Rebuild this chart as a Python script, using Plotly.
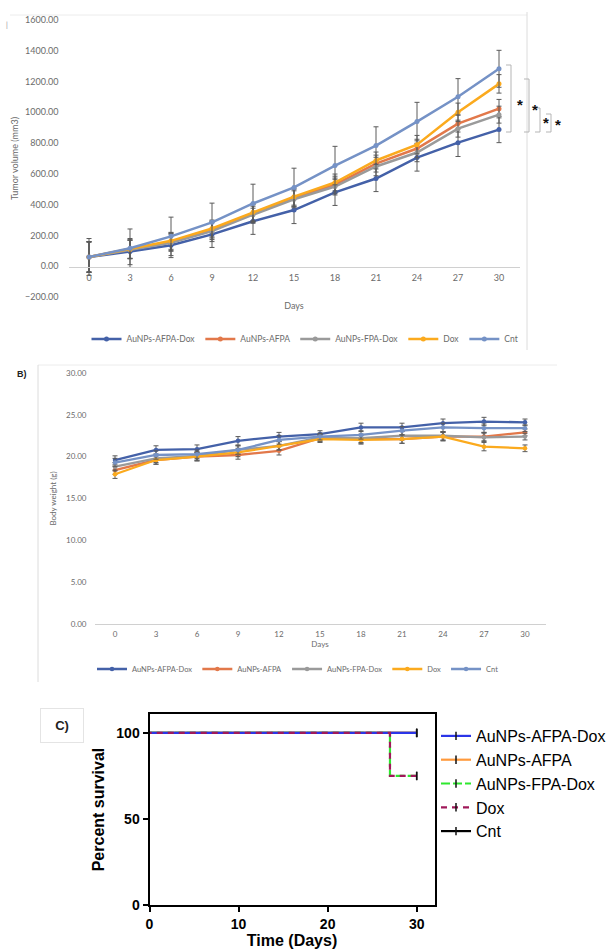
import plotly.graph_objects as go

W, H = 612, 949

days = [0, 3, 6, 9, 12, 15, 18, 21, 24, 27, 30]
series = ["AuNPs-AFPA-Dox", "AuNPs-AFPA", "AuNPs-FPA-Dox", "Dox", "Cnt"]
excel_colors = ["#4461A8", "#E2784A", "#9A9A9A", "#FBAA1E", "#7592C6"]

# Panel A: tumor volume (mm3)
tv_afpa_dox = [60, 95, 136, 207, 292, 365, 480, 570, 706, 803, 888]
tv_afpa = [60, 112, 158, 238, 345, 445, 530, 667, 765, 927, 1024]
tv_fpa_dox = [60, 108, 152, 228, 335, 435, 518, 648, 739, 894, 985]
tv_dox = [60, 110, 165, 245, 350, 452, 544, 687, 790, 1000, 1185]
tv_cnt = [60, 117, 194, 285, 408, 512, 654, 784, 940, 1101, 1283]
tv_err_afpa_dox = [95, 85, 80, 85, 85, 88, 85, 85, 88, 90, 85]
tv_err_afpa = [100, 60, 55, 55, 55, 55, 55, 55, 60, 55, 60]
tv_err_fpa_dox = [100, 60, 55, 55, 55, 55, 55, 60, 60, 55, 55]
tv_err_dox = [100, 60, 55, 55, 55, 55, 55, 55, 60, 60, 60]
tv_err_cnt = [120, 125, 125, 125, 125, 125, 125, 122, 125, 118, 120]

# Panel B: body weight (g)
bw_afpa_dox = [19.6, 20.8, 20.9, 21.9, 22.4, 22.7, 23.5, 23.5, 24.0, 24.2, 24.1]
bw_afpa = [18.4, 19.6, 20.0, 20.2, 20.7, 22.2, 22.1, 22.1, 22.4, 22.4, 22.9]
bw_fpa_dox = [18.8, 19.8, 20.1, 20.8, 21.3, 22.3, 22.2, 22.5, 22.5, 22.3, 22.4]
bw_dox = [17.9, 19.6, 20.0, 20.5, 21.3, 22.1, 22.0, 22.1, 22.4, 21.2, 21.0]
bw_cnt = [19.3, 20.2, 20.3, 20.8, 22.0, 22.4, 22.6, 23.1, 23.5, 23.4, 23.4]
bw_err = [0.5, 0.5, 0.5, 0.5, 0.5, 0.4, 0.5, 0.5, 0.5, 0.5, 0.4]

# Panel C: survival (%), listed from the last time back to day 0
surv_full_t = [30, 0]
surv_full_v = [100, 100]
surv_drop_t = [30, 27, 0]
surv_drop_v = [75, 75, 100]
prism_colors = {"AuNPs-AFPA-Dox": "#2B35E8", "AuNPs-AFPA": "#FF9A3C",
                "AuNPs-FPA-Dox": "#2EE82E", "Dox": "#A0195A", "Cnt": "#000000"}

tv_vals = [tv_afpa_dox, tv_afpa, tv_fpa_dox, tv_dox, tv_cnt]
tv_errs = [tv_err_afpa_dox, tv_err_afpa, tv_err_fpa_dox, tv_err_dox, tv_err_cnt]
bw_vals = [bw_afpa_dox, bw_afpa, bw_fpa_dox, bw_dox, bw_cnt]


def px(x):
    return x / W


def py(y):
    return 1 - y / H


FONT = "Lato, Carlito, 'Liberation Sans', sans-serif"
ARIAL = "'Liberation Sans', Arial, sans-serif"
GRAY = "#6b6b6b"

fig = go.Figure()

for name, col, v, e in zip(series, excel_colors, tv_vals, tv_errs):
    fig.add_trace(go.Scatter(
        x=days, y=v, name=name, mode="lines+markers",
        line=dict(color=col, width=2.5), marker=dict(color=col, size=5),
        error_y=dict(type="data", array=e, color="#5a5a5a", thickness=1, width=2.5),
        xaxis="x", yaxis="y", legend="legend"))

for name, col, v in zip(series, excel_colors, bw_vals):
    fig.add_trace(go.Scatter(
        x=days, y=v, name=name, mode="lines+markers",
        line=dict(color=col, width=2.3), marker=dict(color=col, size=4.5),
        error_y=dict(type="data", array=bw_err, color="#5a5a5a", thickness=1, width=2.5),
        xaxis="x2", yaxis="y2", legend="legend2"))

# Panel C traces (drawing order: bottom to top), legend order via legendrank
c_specs = [
    ("Cnt", surv_full_t, surv_full_v, "solid", 5),
    ("AuNPs-AFPA", surv_full_t, surv_full_v, "solid", 2),
    ("AuNPs-FPA-Dox", surv_drop_t, surv_drop_v, "9px,3px", 3),
    ("AuNPs-AFPA-Dox", surv_full_t, surv_full_v, "solid", 1),
    ("Dox", surv_drop_t, surv_drop_v, "6px,5px", 4),
]
for name, t, v, dash, rank in c_specs:
    col = prism_colors[name]
    mcols = ["#111111"] + ["rgba(0,0,0,0)"] * (len(t) - 1)
    fig.add_trace(go.Scatter(
        x=t, y=v, name=name, mode="lines+markers", line_shape="vh",
        line=dict(color=col, width=2.2, dash=dash),
        marker=dict(symbol="line-ns", size=6, color=mcols,
                    line=dict(width=1.5, color=mcols)),
        xaxis="x3", yaxis="y3", legend="legend3", legendrank=rank, cliponaxis=False))

excel_tick = dict(family=FONT, size=9, color=GRAY)

fig.update_layout(
    width=W, height=H, autosize=False,
    margin=dict(l=0, r=0, t=0, b=0, autoexpand=False),
    paper_bgcolor="white", plot_bgcolor="white",
    font=dict(family=FONT, color=GRAY),
    xaxis=dict(domain=[px(68.5), px(519.5)], range=[-1.5, 31.5], tickvals=days,
               anchor="free", position=py(267), showline=True, linecolor="#d0d0d0",
               linewidth=1, showgrid=False, zeroline=False, ticks="",
               tickfont=excel_tick, ticklabelstandoff=2,
               title=dict(text="Days", font=dict(family=FONT, size=9, color=GRAY), standoff=20)),
    yaxis=dict(domain=[py(297), py(20)], range=[-200, 1600],
               tickvals=list(range(-200, 1601, 200)), tickformat=".2f",
               showgrid=False, zeroline=False, showline=False, ticks="",
               tickfont=excel_tick, ticklabelstandoff=9,
               title=dict(text="Tumor volume (mm3)", font=dict(family=FONT, size=9, color=GRAY), standoff=4)),
    xaxis2=dict(domain=[px(94.5), px(545.5)], range=[-1.5, 31.5], tickvals=days,
                anchor="y2", showline=True, linecolor="#d0d0d0", linewidth=1,
                showgrid=False, zeroline=False, ticks="", tickfont=dict(family=FONT, size=8, color=GRAY),
                ticklabelstandoff=2,
                title=dict(text="Days", font=dict(family=FONT, size=8, color=GRAY), standoff=2)),
    yaxis2=dict(domain=[py(624), py(373)], range=[0, 30], tickvals=list(range(0, 31, 5)),
                tickformat=".2f", anchor="x2", showgrid=False, zeroline=False, showline=False,
                ticks="", tickfont=dict(family=FONT, size=8, color=GRAY), ticklabelstandoff=7,
                title=dict(text="Body weight (g)", font=dict(family=FONT, size=8, color=GRAY), standoff=8)),
    xaxis3=dict(domain=[px(149.5), px(434.5)], range=[0, 32], tickvals=[0, 10, 20, 30],
                anchor="y3", showline=True, linecolor="black", linewidth=2, mirror=True,
                showgrid=False, zeroline=False, ticks="outside", ticklen=5, tickwidth=2,
                tickcolor="black",
                tickfont=dict(family=ARIAL, size=14, color="black", weight="bold"),
                title=dict(text="Time (Days)", standoff=2,
                           font=dict(family=ARIAL, size=16, color="black", weight="bold"))),
    yaxis3=dict(domain=[py(905), py(714)], range=[0, 111], tickvals=[0, 50, 100],
                anchor="x3", showline=True, linecolor="black", linewidth=2, mirror=True,
                showgrid=False, zeroline=False, ticks="outside", ticklen=5, tickwidth=2,
                tickcolor="black",
                tickfont=dict(family=ARIAL, size=14, color="black", weight="bold"),
                title=dict(text="Percent survival", standoff=8,
                           font=dict(family=ARIAL, size=16, color="black", weight="bold"))),
    legend=dict(orientation="h", x=px(305), xanchor="center", y=py(339), yanchor="middle",
                font=dict(family=FONT, size=8.5, color=GRAY), itemwidth=30,
                bgcolor="rgba(0,0,0,0)", tracegroupgap=0),
    legend2=dict(orientation="h", x=px(298), xanchor="center", y=py(669), yanchor="middle",
                 font=dict(family=FONT, size=7.5, color=GRAY), itemwidth=30,
                 bgcolor="rgba(0,0,0,0)"),
    legend3=dict(x=px(436), xanchor="left", y=py(719), yanchor="top",
                 font=dict(family=ARIAL, size=16, color="black"),
                 itemwidth=30, bgcolor="rgba(0,0,0,0)", tracegroupgap=0),
    showlegend=True,
)

shapes = []
light = dict(color="#dcdcdc", width=1)
# Panel A chart frame
shapes.append(dict(type="line", xref="paper", yref="paper", x0=px(10), x1=px(527), y0=py(15), y1=py(15), line=dict(color="#ececec", width=1)))
shapes.append(dict(type="line", xref="paper", yref="paper", x0=px(527), x1=px(527), y0=py(12), y1=py(350), line=light))
# Panel B chart frame
shapes.append(dict(type="line", xref="paper", yref="paper", x0=px(38), x1=px(557), y0=py(365), y1=py(365), line=dict(color="#ececec", width=1)))
shapes.append(dict(type="line", xref="paper", yref="paper", x0=px(38), x1=px(38), y0=py(365), y1=py(682), line=light))

# significance brackets (x in pixels, top/bottom in pixels)
brackets = [(511, 65, 132), (529, 79, 132), (540, 108, 132), (551, 114, 132)]
for bx, top, bot in brackets:
    path = f"M {px(bx-5)} {py(top)} L {px(bx)} {py(top)} L {px(bx)} {py(bot)} L {px(bx-5)} {py(bot)}"
    shapes.append(dict(type="path", xref="paper", yref="paper", path=path,
                       line=dict(color="#b5b5b5", width=1)))
fig.update_layout(shapes=shapes)

annotations = []
for sx, sy in [(520, 104), (535, 109), (546, 123), (558, 125)]:
    annotations.append(dict(text="<b>*</b>", x=px(sx), y=py(sy), xref="paper", yref="paper",
                            showarrow=False, font=dict(family=ARIAL, size=15, color="#111111"),
                            xanchor="center", yanchor="middle"))
annotations.append(dict(text="<b>B)</b>", x=px(22), y=py(374), xref="paper", yref="paper",
                        showarrow=False, font=dict(family=ARIAL, size=9, color="#222222"),
                        xanchor="center", yanchor="middle"))
annotations.append(dict(text="<b>C)</b>", x=px(62), y=py(725), xref="paper", yref="paper",
                        showarrow=False, font=dict(family=ARIAL, size=13, color="#222222"),
                        xanchor="center", yanchor="middle", bordercolor="#e4e4e4", borderwidth=1,
                        borderpad=9, bgcolor="white", width=24))
annotations.append(dict(text="|", x=px(7), y=py(25), xref="paper", yref="paper",
                        showarrow=False, font=dict(family=FONT, size=7, color="#888888"),
                        xanchor="center", yanchor="middle"))
fig.update_layout(annotations=annotations)

fig.write_html("out.html", config={"displayModeBar": False},
               post_script="document.body.style.margin='0px';")
